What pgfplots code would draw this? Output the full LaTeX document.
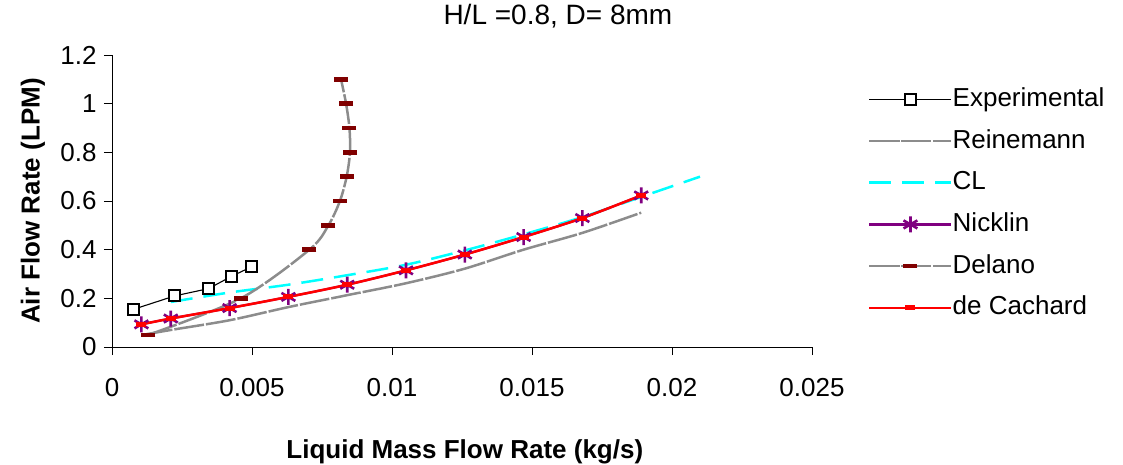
\documentclass[border=0pt]{standalone}
\usepackage{pgfplots}
\pgfplotsset{compat=1.18}
\usepackage{fontspec}
\setmainfont{Liberation Sans}

\definecolor{lgray}{RGB}{140,140,140}
\definecolor{dred}{RGB}{128,0,0}
\definecolor{purp}{RGB}{128,0,128}
\definecolor{cyanx}{RGB}{0,255,255}
\definecolor{redx}{RGB}{255,0,0}

\begin{document}
\begin{tikzpicture}
\useasboundingbox (-112pt,-117pt) rectangle (1011pt,347pt);
\begin{axis}[
  scale only axis,
  width=700pt, height=292pt,
  xmin=0, xmax=0.025, ymin=0, ymax=1.2,
  axis lines*=left,
  axis line style={line width=0.8pt},
  tick align=outside,
  major tick length=8pt,
  tick style={black, line width=0.8pt},
  scaled x ticks=false,
  xtick={0,0.005,0.01,0.015,0.02,0.025},
  xticklabels={0,0.005,0.01,0.015,0.02,0.025},
  ytick={0,0.2,0.4,0.6,0.8,1,1.2},
  yticklabels={0,0.2,0.4,0.6,0.8,1,1.2},
  ticklabel style={font=\fontsize{26}{29}\selectfont},
  xticklabel style={yshift=-20pt},
  yticklabel style={xshift=-4pt},
  /pgf/number format/assume math mode=true,
  title={H/L =0.8, D= 8mm},
  title style={font=\fontsize{28}{32}\selectfont, at={(axis description cs:0.637,1.113)}, anchor=center},
  xlabel={\bfseries Liquid Mass Flow Rate (kg/s)},
  xlabel style={font=\fontsize{26}{30}\selectfont, at={(axis description cs:0.504,-0.36)}, anchor=center},
  ylabel={\bfseries Air Flow Rate (LPM)},
  ylabel style={font=\fontsize{26}{30}\selectfont, at={(axis description cs:-0.113,0.5)}, anchor=center},
  legend style={draw=none, fill=none, at={(axis description cs:1.08,0.89)}, anchor=north west,
    inner sep=0pt, font=\fontsize{26}{29}\selectfont, row sep=17.7pt,
    nodes={inner sep=0pt, text height=19pt, text depth=5pt},
    /tikz/every even column/.append style={column sep=7pt}},
  legend cell align=left,
  legend image code/.code={\draw[mark repeat=2,mark phase=2] plot coordinates {(0pt,0pt) (41pt,0pt) (82pt,0pt)};},
  clip=false,
]
% Experimental
\addplot[black, line width=1.1pt, mark=square*, mark size=5.5pt, mark options={fill=white, line width=2pt}]
  coordinates {(0.00077,0.155) (0.00224,0.21) (0.00345,0.24) (0.00426,0.29) (0.00499,0.33)};
% Reinemann
\addplot[lgray, line width=2.5pt, smooth, dash pattern=on 30pt off 2pt]
  coordinates {(0.0011,0.05) (0.0021,0.07) (0.0042,0.11) (0.0063,0.164) (0.0084,0.213) (0.0105,0.262) (0.0126,0.322) (0.0147,0.40) (0.0168,0.469) (0.0189,0.552)};
% CL
\addplot[cyanx, line width=2.5pt, smooth, dash pattern=on 22pt off 11pt]
  coordinates {(0.0021,0.185) (0.0042,0.224) (0.0063,0.256) (0.0084,0.295) (0.0105,0.338) (0.0126,0.397) (0.0147,0.463) (0.0168,0.534) (0.0189,0.617) (0.021,0.70)};
% Nicklin
\addplot[purp, line width=2.2pt, smooth, mark=asterisk, mark size=8pt, mark options={line width=2.6pt}]
  coordinates {(0.00105,0.093) (0.0021,0.117) (0.0042,0.16) (0.0063,0.206) (0.0084,0.256) (0.0105,0.315) (0.0126,0.38) (0.0147,0.452) (0.0168,0.53) (0.0189,0.623)};
% Delano
\addplot[lgray, line width=2.5pt, smooth, dash pattern=on 30pt off 2pt, mark=-, mark size=7pt, mark options={solid, draw=dred, line width=4.5pt}]
  coordinates {(0.0013,0.05) (0.0046,0.2) (0.00705,0.4) (0.00773,0.5) (0.00814,0.6) (0.00838,0.7) (0.0085,0.8) (0.00848,0.9) (0.00836,1.0) (0.00818,1.1)};
% de Cachard
\addplot[redx, line width=2.5pt, smooth, mark=-, mark size=5pt, mark options={line width=5pt}]
  coordinates {(0.00105,0.093) (0.0021,0.117) (0.0042,0.16) (0.0063,0.206) (0.0084,0.256) (0.0105,0.315) (0.0126,0.38) (0.0147,0.452) (0.0168,0.53) (0.0189,0.623)};
\legend{Experimental,Reinemann,CL,Nicklin,Delano,de Cachard}
\end{axis}
\end{tikzpicture}
\end{document}
